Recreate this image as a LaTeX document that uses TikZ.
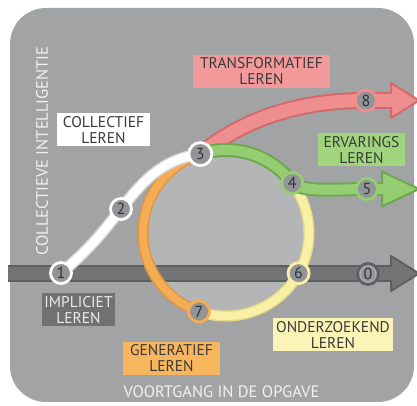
\documentclass[tikz,border=0pt]{standalone}
\usepackage{fontspec}
\usetikzlibrary{calc}
\setmainfont{PT Sans}
\definecolor{bg}{HTML}{A2A3A5}
\definecolor{inner}{HTML}{B4B5B7}
\definecolor{axisfill}{HTML}{737476}
\definecolor{axisdark}{HTML}{5E5F61}
\definecolor{nodefill}{HTML}{939496}
\definecolor{numtext}{HTML}{2E3240}
\definecolor{redfill}{HTML}{EE8E8F}
\definecolor{reddark}{HTML}{D26A6C}
\definecolor{redbox}{HTML}{F29A9A}
\definecolor{greenfill}{HTML}{95CD73}
\definecolor{greendark}{HTML}{6DA84F}
\definecolor{greenbox}{HTML}{A0D57E}
\definecolor{orangefill}{HTML}{F5AD55}
\definecolor{orangedark}{HTML}{E0953F}
\definecolor{orangebox}{HTML}{F7B65E}
\definecolor{yellowfill}{HTML}{F8F0A4}
\definecolor{yellowdark}{HTML}{E6DC88}
\definecolor{yellowbox}{HTML}{FBF4B6}
\definecolor{whitedark}{HTML}{D2D2D2}
\definecolor{implbox}{HTML}{707173}
\definecolor{boxtext}{HTML}{3A3A3A}
\begin{document}
\begin{tikzpicture}[x=1pt,y=1pt,
  num/.style={circle, minimum size=21pt, inner sep=0pt, line width=2.8pt,
    draw=#1, fill=nodefill, text=numtext, font=\fontsize{16}{16}\selectfont},
  lbox/.style={rectangle, fill=#1, inner sep=0pt, minimum height=33pt,
    align=center, text=boxtext, font=\fontsize{15.5}{16}\selectfont},
  axislbl/.style={text=white!94!black, inner sep=0pt, font=\fontsize{16.5}{17}\selectfont},
  band/.style={line width=#1, line cap=butt}
]
\useasboundingbox (0,0) rectangle (417,406);
\fill[white] (0,0) rectangle (417,406);
\fill[bg, rounded corners=36pt] (10,4) rectangle (414,398);

% key points of the learning paths
\coordinate (cc) at (226,173);
\coordinate (c1) at (61,133);
\coordinate (c2) at (121,197);
\coordinate (c3) at ($(cc)+(108:83)$);
\coordinate (c4) at ($(cc)+(37:83)$);
\coordinate (c6) at ($(cc)+(-29:83)$);
\coordinate (c7) at ($(cc)+(-109:83)$);
\coordinate (c5) at (367,217);
\coordinate (c8) at (366,305.5);
\coordinate (c0) at (368,132);
\coordinate (axL) at (8,132.5);
\coordinate (axE) at (391,132.5);
\coordinate (axT) at (419,132.5);
\coordinate (grE) at (382,217);
\coordinate (grT) at (419,217);
\coordinate (rdE) at (391,305.5);
\coordinate (rdT) at (419,305.5);

% lighter disc inside the cycle
\fill[inner] (cc) circle (83pt);

% progress axis
\draw[axisdark, band=17pt] (axL) -- (axE);
\draw[axisfill, band=13pt] (axL) -- (axE);
\filldraw[fill=axisfill, draw=axisdark, line width=2pt, line join=round]
  ([yshift=17.5pt]axE) -- (axT) -- ([yshift=-17.5pt]axE) -- cycle;
\draw[axisfill, band=13pt] ([xshift=-3pt]axE) -- ([xshift=2pt]axE);

% generative arc (orange) and investigative arc (yellow)
\draw[orangedark, line width=11pt] (c3) arc[start angle=108, end angle=251, radius=83pt];
\draw[orangefill, line width=8pt] (c3) arc[start angle=108, end angle=251, radius=83pt];
\draw[yellowdark, line width=11pt] (c7) arc[start angle=-109, end angle=37, radius=83pt];
\draw[yellowfill, line width=8pt] (c7) arc[start angle=-109, end angle=37, radius=83pt];

% collective path (white)
\draw[whitedark, line width=12pt] (c1) to[out=40,in=232] (c2) to[out=52,in=188] (c3);
\draw[white, line width=9pt] (c1) to[out=40,in=232] (c2) to[out=52,in=188] (c3);

% transformative arrow (red)
\draw[reddark, line width=17pt] (c3) .. controls (245,288) and (300,305.5) .. (c8) -- (rdE);
\filldraw[fill=redfill, draw=reddark, line width=2pt, line join=round]
  ([yshift=17.5pt]rdE) -- (rdT) -- ([yshift=-17.5pt]rdE) -- cycle;
\draw[redfill, line width=13pt] (c3) .. controls (245,288) and (300,305.5) .. (c8) -- ([xshift=2pt]rdE);

% experiential arrow (green)
\draw[greendark, line width=14pt] (c3) arc[start angle=108, end angle=37, radius=83pt]
  .. controls +(-38:16) and (338,217) .. (c5) -- (grE);
\filldraw[fill=greenfill, draw=greendark, line width=2pt, line join=round]
  ([yshift=17.5pt]grE) -- (grT) -- ([yshift=-17.5pt]grE) -- cycle;
\draw[greenfill, line width=10pt] (c3) arc[start angle=108, end angle=37, radius=83pt]
  .. controls +(-38:16) and (338,217) .. (c5) -- ([xshift=2pt]grE);

% numbered stations
\node[num=white] (n1) at (c1) {1};
\node[num=white] (n2) at (c2) {2};
\node[num=white, minimum size=23pt] (n3) at (c3) {3};
\node[num=greenfill] (n4) at (c4) {4};
\node[num=greenfill] (n5) at (c5) {5};
\node[num=yellowfill] (n6) at (c6) {6};
\node[num=orangefill] (n7) at (c7) {7};
\node[num=redfill] (n8) at (c8) {8};
\node[num=axisdark] (n0) at (c0) {0};
\draw[bg!85!white, line width=1pt] (n0.center) circle (8pt);

% labels
\node[lbox=redbox, minimum width=137pt] (lT) at (261.5,334.5) {TRANSFORMATIEF\\LEREN};
\node[lbox=white, minimum width=93pt] (lC) at (103.5,276) {COLLECTIEF\\LEREN};
\node[lbox=greenbox, minimum width=87pt] (lE) at (361.5,256) {ERVARINGS\\LEREN};
\node[lbox=implbox, minimum width=73pt, text=white!92!black] (lI) at (78.5,96) {IMPLICIET\\LEREN};
\node[lbox=orangebox, minimum width=97pt] (lG) at (171.5,47.5) {GENERATIEF\\LEREN};
\node[lbox=yellowbox, minimum width=120pt] (lO) at (333,71) {ONDERZOEKEND\\LEREN};

\node[axislbl] (xl) at (221.5,14) {VOORTGANG IN DE OPGAVE};
\node[axislbl, rotate=90] (yl) at (42,255) {COLLECTIEVE INTELLIGENTIE};
\end{tikzpicture}
\end{document}
